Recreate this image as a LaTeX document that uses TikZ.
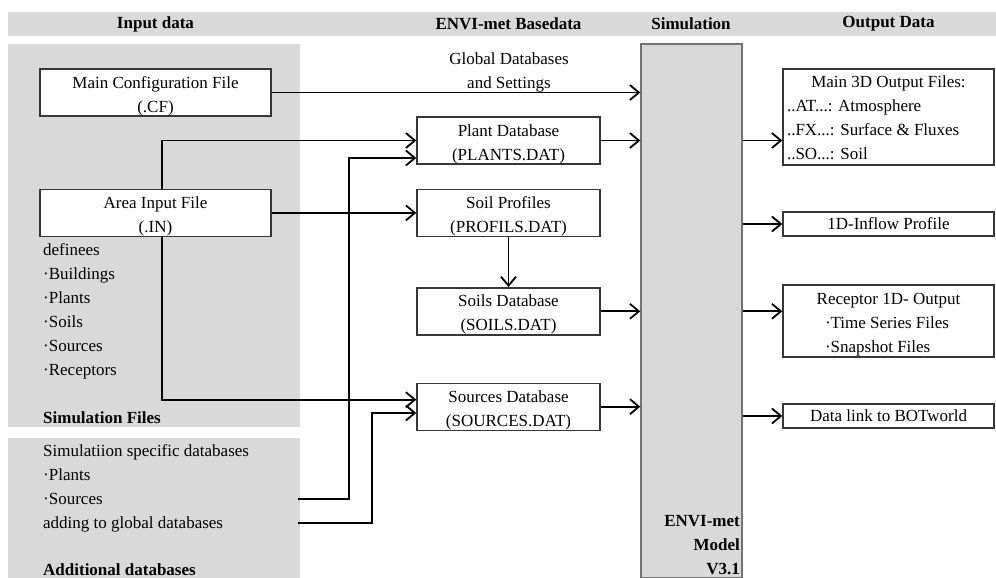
\documentclass[tikz,border=0pt]{standalone}
\usepackage{fontspec}
\setmainfont{Liberation Serif}
\usetikzlibrary{positioning,arrows.meta,calc}
\definecolor{bandgray}{RGB}{217,217,217}
\definecolor{boxline}{RGB}{55,55,55}
\definecolor{simline}{RGB}{115,115,115}
\tikzset{
  inbox/.style={rectangle,draw=boxline,line width=1.4pt,fill=white,align=center,inner sep=0pt,minimum width=231pt,minimum height=47pt,text height=39pt,text depth=0pt},
  basebox/.style={inbox,minimum width=183pt},
  outbox/.style={rectangle,draw=boxline,line width=1.4pt,fill=white,inner sep=0pt,minimum width=211pt,minimum height=24pt},
  multibox/.style={outbox,align=left,text depth=0pt},
  simbox/.style={rectangle,draw=simline,line width=1.4pt,fill=bandgray,minimum width=101pt,minimum height=534pt},
  headtxt/.style={font=\fontsize{17}{24}\selectfont\bfseries},
  listtxt/.style={align=left,inner sep=0pt,anchor=north west},
  edge/.style={-{Straight Barb[length=9pt,width=15pt]},line width=1.8pt}
}

\begin{document}
\begin{tikzpicture}[x=1pt,y=-1pt,font=\fontsize{17}{24}\selectfont]
  \useasboundingbox (0,0) rectangle (996,578);
  % grey bands
  \fill[bandgray] (8,12) rectangle (996,36);
  \fill[bandgray] (8,44) rectangle (300,427);
  \fill[bandgray] (8,438) rectangle (300,578);
  % column heads
  \node[headtxt] (hin) at (155.5,24) {Input data};
  \node[headtxt] (hbase) at (508.5,24) {ENVI-met Basedata};
  \node[headtxt] (hsim) at (691,24) {Simulation};
  \node[headtxt] (hout) at (888.5,24) {Output Data};
  % input data
  \node[inbox] (maincf) at (155.5,92.5) {Main Configuration File\\(.CF)};
  \node[inbox,below=72pt of maincf] (areain) {Area Input File\\(.IN)};
  \node[listtxt] (defines) at (43,243) {definees\\·Buildings\\·Plants\\·Soils\\·Sources\\·Receptors};
  \node[headtxt,anchor=west,inner sep=0pt] (simfiles) at (43,418) {Simulation Files};
  \node[listtxt] (extradb) at (43,444) {Simulatiion specific databases\\·Plants\\·Sources\\adding to global databases};
  \node[headtxt,anchor=west,inner sep=0pt] (adddb) at (43,570) {Additional databases};
  % basedata
  \node[basebox] (plantdb) at (508.5,140.5) {Plant Database\\(PLANTS.DAT)};
  \node[basebox,below=24pt of plantdb] (soilprof) {Soil Profiles\\(PROFILS.DAT)};
  \node[basebox,below=50pt of soilprof] (soildb) {Soils Database\\(SOILS.DAT)};
  \node[basebox,below=47pt of soildb] (srcdb) {Sources Database\\(SOURCES.DAT)};
  \node[align=center] (globlbl) at (509,72) {Global Databases\\and Settings};
  % simulation
  \node[simbox] (sim) at (691.5,311) {};
  \node[headtxt,align=right,anchor=north east,inner sep=0pt] (simname) at (740,515.5) {ENVI-met\\Model\\V3.1};
  % output data
  \node[multibox,minimum height=96pt,text height=84pt] (out3d) at (888.5,117) {\makebox[203pt]{Main 3D Output Files:}\\..AT...: Atmosphere\\..FX...: Surface \& Fluxes\\..SO...: Soil};
  \node[outbox] (inflow) at (888.5,224) {1D-Inflow Profile};
  \node[multibox,minimum height=72pt,text height=62pt] (recept) at (888.5,321) {\makebox[203pt]{Receptor 1D- Output}\\\hspace*{38pt}·Time Series Files\\\hspace*{38pt}·Snapshot Files};
  \node[outbox] (botlink) at (888.5,416) {Data link to BOTworld};
  % free ends and bends
  \coordinate (srcout) at (298,499);
  \coordinate (addout) at (298,523);
  \coordinate (jplant) at (349,158);
  \coordinate (jsrc) at (372,413);
  % connectors
  \draw[edge] (maincf.east) -- (maincf.east -| sim.west);
  \draw[edge] (areain.east) -- (soilprof.west);
  \draw[edge] ([xshift=6.5pt]areain.north) |- (plantdb.west);
  \draw[edge] ([xshift=6.5pt]areain.south) |- ([yshift=7pt]srcdb.west);
  \draw[edge] (srcout) -| (jplant) -- (jplant -| plantdb.west);
  \draw[edge] (addout) -| (jsrc) -- (jsrc -| srcdb.west);
  \draw[edge] (soilprof) -- (soildb);
  \foreach \b in {plantdb,soildb,srcdb}
    \draw[edge] (\b.east) -- (\b.east -| sim.west);
  \draw[edge] (sim.east |- plantdb) -- (out3d.west |- plantdb);
  \draw[edge] (sim.east |- inflow) -- (inflow.west);
  \draw[edge] (sim.east |- soildb) -- (recept.west |- soildb);
  \draw[edge] (sim.east |- botlink) -- (botlink.west);
\end{tikzpicture}
\end{document}
